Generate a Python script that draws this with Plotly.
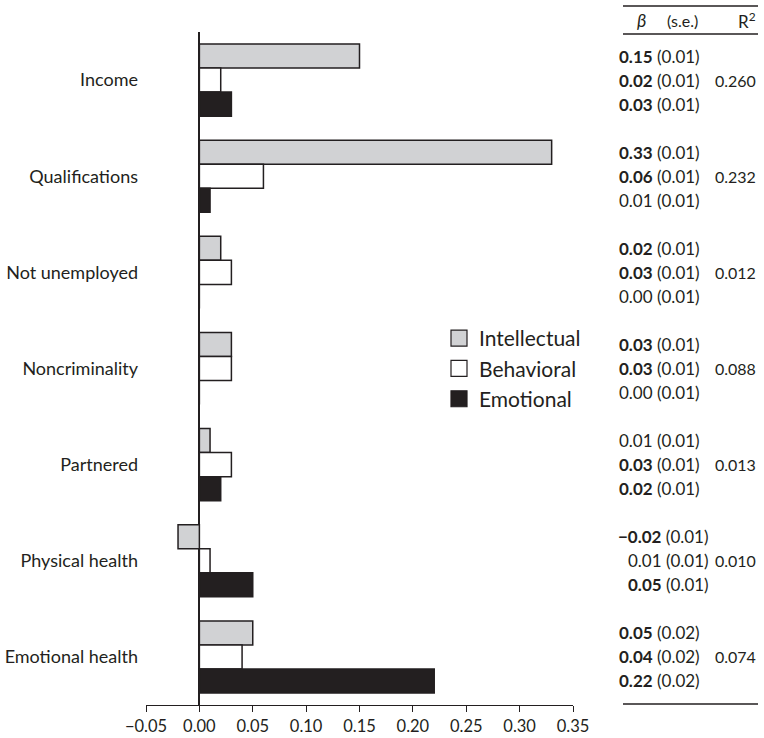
import plotly.graph_objects as go

categories = ["Income", "Qualifications", "Not unemployed", "Noncriminality",
              "Partnered", "Physical health", "Emotional health"]
series_names = ["Intellectual", "Behavioral", "Emotional"]
intellectual = [0.15, 0.33, 0.02, 0.03, 0.01, -0.02, 0.05]
behavioral = [0.02, 0.06, 0.03, 0.03, 0.03, 0.01, 0.04]
emotional = [0.03, 0.01, 0.00, 0.00, 0.02, 0.05, 0.22]
se_intellectual = [0.01, 0.01, 0.01, 0.01, 0.01, 0.01, 0.02]
se_behavioral = [0.01, 0.01, 0.01, 0.01, 0.01, 0.01, 0.02]
se_emotional = [0.01, 0.01, 0.01, 0.01, 0.01, 0.01, 0.02]
bold_intellectual = [True, True, True, True, False, True, True]
bold_behavioral = [True, True, True, True, True, False, True]
bold_emotional = [True, False, False, False, True, True, True]
r_squared = [0.260, 0.232, 0.012, 0.088, 0.013, 0.010, 0.074]
x_ticks = [-0.05, 0.00, 0.05, 0.10, 0.15, 0.20, 0.25, 0.30, 0.35]

FONT = "Lato"
DARK = "#231f20"
fills = ["#d1d2d4", "#ffffff", DARK]

W, H = 764, 738
L, R, T, B = 146, 191, 32, 33
PW, PH = W - L - R, H - T - B


def px_x(p):
    return (p - L) / PW


def px_y(p):
    return (H - B - p) / PH


fig = go.Figure()
vals = [intellectual, behavioral, emotional]
for name, v, c in zip(series_names, vals, fills):
    fig.add_trace(go.Bar(
        y=categories, x=v, orientation="h", name=name,
        marker=dict(color=c, line=dict(color=DARK, width=1.5)),
        showlegend=False, hoverinfo="x+y",
    ))
    fig.add_trace(go.Scatter(
        x=[None], y=[None], mode="markers", name=name,
        marker=dict(symbol="square", size=16, color=c,
                    line=dict(color=DARK, width=1.2)),
        showlegend=True,
    ))

# table annotations
ses = [se_intellectual, se_behavioral, se_emotional]
bolds = [bold_intellectual, bold_behavioral, bold_emotional]
bar_px = PH / len(categories) * 0.75 / 3
annotations = []
for i, cat in enumerate(categories):
    group = [vals[k][i] for k in range(3)]
    shift_x = 9 if min(group) < 0 else 0
    for k in range(3):
        b = vals[k][i]
        s = ses[k][i]
        bs = f"{b:.2f}".replace("-", "−")
        bs = f"<b>{bs}</b>" if bolds[k][i] else bs
        annotations.append(dict(
            xref="paper", yref="y", x=px_x(702), y=cat, xshift=shift_x,
            yshift=(1 - k) * bar_px, xanchor="right", yanchor="middle",
            text=f"{bs} ({s:.2f})", showarrow=False,
            font=dict(family=FONT, size=17, color=DARK)))
    annotations.append(dict(
        xref="paper", yref="y", x=px_x(758), y=cat, xanchor="right",
        yanchor="middle", text=f"{r_squared[i]:.3f}", showarrow=False,
        font=dict(family=FONT, size=16, color=DARK)))

annotations += [
    dict(xref="paper", yref="paper", x=px_x(641), y=px_y(20), text="<i>β</i>",
         showarrow=False, xanchor="center", yanchor="middle",
         font=dict(family=FONT, size=18, color=DARK)),
    dict(xref="paper", yref="paper", x=px_x(682), y=px_y(20), text="(s.e.)",
         showarrow=False, xanchor="center", yanchor="middle",
         font=dict(family=FONT, size=16, color=DARK)),
    dict(xref="paper", yref="paper", x=px_x(758), y=px_y(20), text="R<sup>2</sup>",
         showarrow=False, xanchor="right", yanchor="middle",
         font=dict(family=FONT, size=17, color=DARK)),
]

shapes = [
    dict(type="line", xref="paper", yref="paper", x0=px_x(623), x1=px_x(758),
         y0=px_y(6), y1=px_y(6), line=dict(color=DARK, width=1.3)),
    dict(type="line", xref="paper", yref="paper", x0=px_x(623), x1=px_x(758),
         y0=px_y(34), y1=px_y(34), line=dict(color=DARK, width=1.3)),
    dict(type="line", xref="paper", yref="paper", x0=px_x(623), x1=px_x(758),
         y0=px_y(704), y1=px_y(704), line=dict(color=DARK, width=1.3)),
]

fig.update_layout(
    width=W, height=H, margin=dict(l=L, r=R, t=T, b=B, pad=0),
    paper_bgcolor="white", plot_bgcolor="white",
    barmode="group", bargap=0.25, bargroupgap=0,
    font=dict(family=FONT, color=DARK),
    xaxis=dict(range=[-0.05, 0.35], tickvals=x_ticks, tickformat=".2f",
               showgrid=False, zeroline=True, zerolinecolor=DARK,
               zerolinewidth=1.5, showline=True, linecolor=DARK, linewidth=1.3,
               ticks="outside", ticklen=6, tickcolor=DARK, tickwidth=1.3,
               tickfont=dict(family=FONT, size=16.5, color=DARK),
               fixedrange=True, automargin=False),
    yaxis=dict(autorange="reversed", showgrid=False, zeroline=False,
               showline=False, ticks="", ticklabelstandoff=7, automargin=False,
               tickfont=dict(family=FONT, size=18, color=DARK)),
    legend=dict(x=px_x(439), y=px_y(318), xanchor="left", yanchor="top",
                font=dict(family=FONT, size=21, color=DARK),
                bgcolor="rgba(0,0,0,0)", tracegroupgap=4, itemwidth=30),
    annotations=annotations, shapes=shapes,
)

fig.write_html("out.html")
